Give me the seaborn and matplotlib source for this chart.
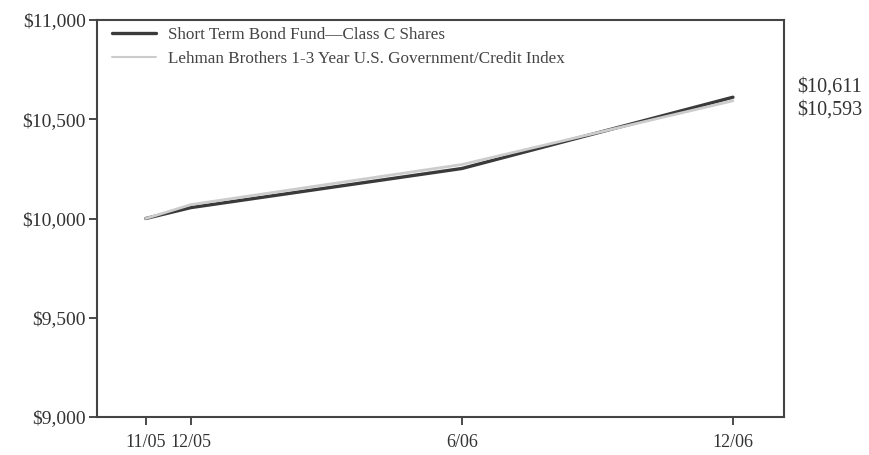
import matplotlib
matplotlib.use("Agg")
import matplotlib.pyplot as plt
import seaborn as sns
import pandas as pd

months = [0, 1, 7, 13]
tick_labels = ["11/05", "12/05", "6/06", "12/06"]
fund_values = [10000, 10055, 10252, 10611]
index_values = [10000, 10070, 10272, 10593]
fund_name = "Short Term Bond Fund\u2014Class C Shares"
index_name = "Lehman Brothers 1-3 Year U.S. Government/Credit Index"

df = pd.DataFrame({
    "month": months * 2,
    "value": fund_values + index_values,
    "series": [fund_name] * len(months) + [index_name] * len(months),
})

sns.set_theme(style="white")
plt.rcParams["font.family"] = ["Liberation Serif", "DejaVu Serif"]

fig = plt.figure(figsize=(8.69, 4.55), dpi=100)
ax = fig.add_axes([97 / 869, 1 - 417 / 455, (784 - 97) / 869, (417 - 20) / 455])

sns.lineplot(data=df, x="month", y="value", hue="series",
             palette={fund_name: "#3a3a3a", index_name: "#cccccc"},
             ax=ax, legend=True)
for line, lw in zip(ax.lines, [2.4, 2.0]):
    line.set_linewidth(lw)

ax.set_xlim(-1.08, 14.13)
ax.set_ylim(9000, 11000)
ax.set_xticks(months)
ax.set_xticklabels(tick_labels)
ax.set_yticks([9000, 9500, 10000, 10500, 11000])
ax.set_yticklabels(["$9,000", "$9,500", "$10,000", "$10,500", "$11,000"])
ax.set_xlabel("")
ax.set_ylabel("")
ax.tick_params(axis="both", colors="#333333", length=6,
               direction="out", bottom=True, left=True)
ax.tick_params(axis="y", labelsize=14, pad=2)
ax.tick_params(axis="x", labelsize=13, pad=6)
for sp in ax.spines.values():
    sp.set_color("#444444")
    sp.set_linewidth(1.5)

leg = ax.legend(loc="upper left", frameon=False, fontsize=12.3,
                handlelength=2.6, borderaxespad=0.0, labelspacing=0.5,
                handletextpad=0.7, bbox_to_anchor=(0.012, 1.0))
for t in leg.get_texts():
    t.set_color("#444444")
for h, lw in zip(leg.get_lines(), [2.4, 1.5]):
    h.set_linewidth(lw)

fig.text(797 / 869, 1 - 87 / 455, "$10,611", fontsize=14.5, color="#333333", va="center")
fig.text(797 / 869, 1 - 110 / 455, "$10,593", fontsize=14.5, color="#333333", va="center")

fig.savefig("out.png", dpi=100)
